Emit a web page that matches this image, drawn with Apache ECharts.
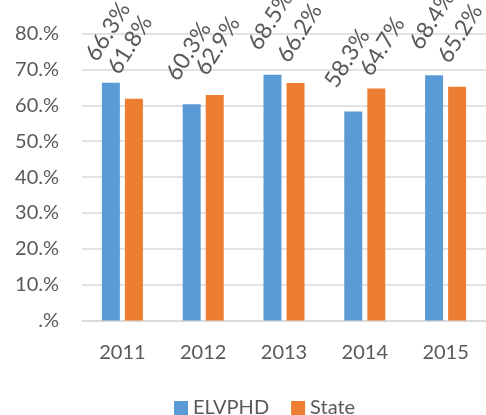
<!DOCTYPE html>
<html>
<head>
<meta charset="utf-8">
<script src="https://cdn.jsdelivr.net/npm/echarts@6/dist/echarts.min.js"></script>
<style>html,body{margin:0;padding:0;background:#fff;}#c{width:486px;height:415px;}</style>
</head>
<body>
<div id="c"></div>
<script>
var categories = ['2011', '2012', '2013', '2014', '2015'];
var elvphd = [66.3, 60.3, 68.5, 58.3, 68.4];
var state = [61.8, 62.9, 66.2, 64.7, 65.2];

// label placement (layout only): anchor relative to bar's top-left corner
var elvphdLabelPos = [[-11, -24], [-11, -26], [-10, -27], [-14, -26], [-10, -28]];
var stateLabelPos = [[-12, -27], [-5, -22], [-4, -23], [-2, -15], [-5, -26]];

var FONT = 'Lato';
var GRAY = '#595959';
var chart = echarts.init(document.getElementById('c'), null, {renderer: 'canvas'});

function labelled(values, positions) {
  return values.map(function (v, i) {
    return {value: v, label: {position: positions[i]}};
  });
}
var baseLabel = {
  show: true,
  rotate: 58,
  align: 'left',
  verticalAlign: 'middle',
  color: GRAY,
  fontFamily: FONT,
  fontSize: 23,
  formatter: function (p) { return p.value.toFixed(1) + '%'; }
};
chart.setOption({
  animation: false,
  textStyle: {fontFamily: FONT},
  grid: {left: 82, right: -3, top: 33.6, bottom: 94.5, containLabel: false},
  legend: {
    data: ['ELVPHD', 'State'],
    top: 393,
    left: 169,
    icon: 'rect',
    itemWidth: 14,
    itemHeight: 14,
    itemGap: 22,
    textStyle: {color: GRAY, fontFamily: FONT, fontSize: 20}
  },
  xAxis: {
    type: 'category',
    data: categories,
    axisLine: {show: true, lineStyle: {color: '#d9d9d9', width: 1.5}},
    axisTick: {show: false},
    axisLabel: {color: GRAY, fontFamily: FONT, fontSize: 20, margin: 22}
  },
  yAxis: {
    type: 'value',
    min: 0,
    max: 80,
    interval: 10,
    axisLine: {show: false},
    axisTick: {show: false},
    splitLine: {lineStyle: {color: '#d9d9d9', width: 1.5}},
    axisLabel: {
      color: GRAY, fontFamily: FONT, fontSize: 20, margin: 23,
      formatter: function (v) {
        return (v === 0 ? '' : String(v)) + '.%';
      }
    }
  },
  series: [
    {name: 'ELVPHD', type: 'bar', data: labelled(elvphd, elvphdLabelPos), barWidth: 18, barGap: '28%',
     itemStyle: {color: '#5B9BD5'}, label: baseLabel},
    {name: 'State', type: 'bar', data: labelled(state, stateLabelPos), barWidth: 18, barGap: '28%',
     itemStyle: {color: '#ED7D31'}, label: baseLabel}
  ]
});
</script>
</body>
</html>
